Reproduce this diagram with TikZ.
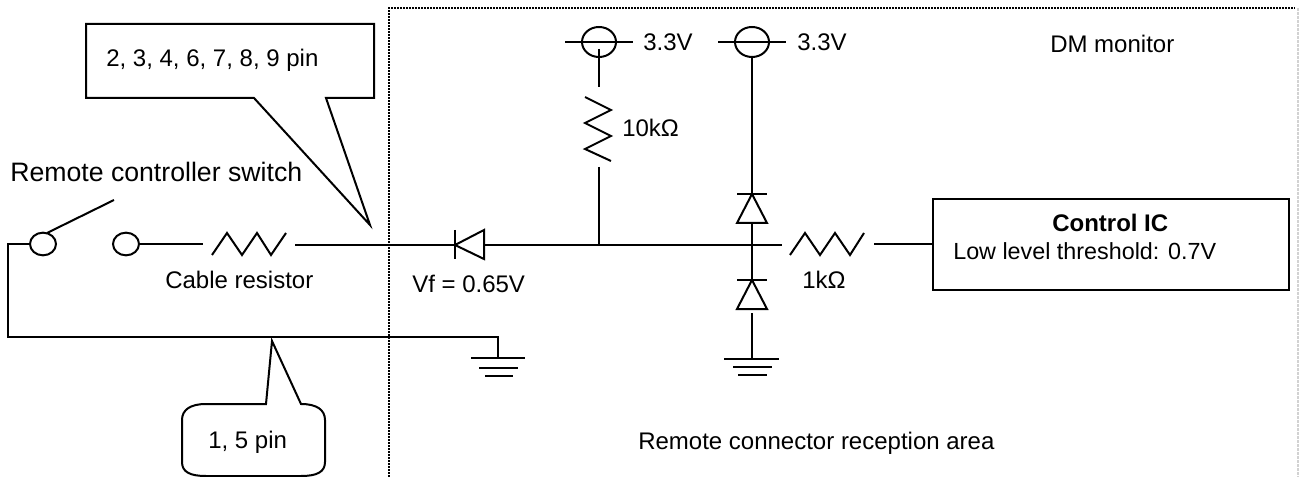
\documentclass[tikz,border=0pt]{standalone}
\usepackage{fontspec}
\setmainfont{Liberation Sans}
\tikzset{
  wire/.style={line width=1.5pt},
  txt/.style={inner sep=0pt,anchor=west,font=\fontsize{18}{20}\selectfont},
  bigtxt/.style={inner sep=0pt,anchor=west,font=\fontsize{20}{22}\selectfont},
  term/.style={draw,line width=1.5pt,ellipse,inner sep=0pt,minimum width=19.5pt,minimum height=17pt},
  rail/.style={draw,line width=1.5pt,ellipse,inner sep=0pt,minimum width=25.5pt,minimum height=22.5pt},
  monitor/.style={line width=1.5pt,dash pattern=on 1.2pt off 1.05pt},
}
\usetikzlibrary{shapes.geometric,calc}
\begin{document}
\begin{tikzpicture}[x=0.75pt,y=-0.75pt]
\useasboundingbox (0,0) rectangle (1299,477);

% monitor area
\draw[monitor] (389,477) -- (389,8) -- (1295,8);
\draw[line width=1pt,dash pattern=on 2pt off 1pt,gray!35] (1298,8) -- (1298,477);

% callouts
\draw[wire] (86,24) -- (374,24) -- (374,98) -- (326,98) -- (370,225) -- (254,98) -- (86,98) -- cycle;
\draw[wire] (266,404) -- (272,341) -- (301,404) .. controls (317,404) and (325,410) .. (325,420)
  -- (325,462) .. controls (325,472) and (317,476) .. (301,476) -- (206,476)
  .. controls (190,476) and (182,472) .. (182,462) -- (182,420)
  .. controls (182,410) and (190,404) .. (206,404) -- cycle;
\node[txt] (pinA) at (106,60) {2, 3, 4, 6, 7, 8, 9 pin};
\node[txt] (pinB) at (208,442) {1, 5 pin};

% switch
\node[bigtxt] (swlabel) at (10,172) {Remote controller switch};
\node[term] (swL) at (43,244) {};
\node[term] (swR) at (126,244) {};
\coordinate (lever) at (114,200);
\draw[wire] (swL) ++(4,-11) -- (lever);

% cable resistor
\coordinate (rcA) at (203,244);
\coordinate (rcB) at (295,245);
\draw[wire] (swR) -- (rcA);
\draw[wire] (212,255) -- (227,233) -- (242,255) -- (257,233) -- (271,255) -- (286,233);
\node[txt] (rclabel) at (165,280) {Cable resistor};

% diode
\coordinate (dA) at (455,245);
\coordinate (dB) at (484,245);
\draw[wire] (rcB) -- (dA);
\draw[wire] (455,230) -- (455,259);
\draw[wire] (dA) -- (484,230) -- (484,259) -- cycle;
\node[txt] (vflabel) at (412,284) {Vf = 0.65V};

% return wire
\coordinate (gA) at (498,358);
\coordinate (corner) at (8,244);
\draw[wire] (swL) -- (corner) -- (8,337) -- (498,337) -- (gA);
\draw[wire] (471,358) -- (525,358);
\draw[wire] (479,368) -- (518,368);
\draw[wire] (485,376) -- (513,376);

% pull up
\node[rail] (vccA) at (599,42) {};
\draw[wire] (565,42) -- (633,42);
\coordinate (pullA) at (599,87);
\coordinate (pullB) at (599,167);
\coordinate (tap) at (599,245);
\draw[wire] (599,49) -- (pullA);
\draw[wire] (585,97) -- (611,110) -- (585,123) -- (611,136) -- (585,149) -- (611,161);
\draw[wire] (pullB) -- (tap);
\node[txt] (vccAlabel) at (643,42) {3.3V};
\node[txt] (pulllabel) at (622,128) {10kΩ};

% clamp diodes
\node[rail] (vccB) at (752,42) {};
\draw[wire] (718,42) -- (786,42);
\node[txt] (vccBlabel) at (797,42) {3.3V};
\coordinate (cA) at (752,194);
\coordinate (cB) at (752,223);
\coordinate (cC) at (752,280);
\coordinate (cD) at (752,313);
\coordinate (gB) at (752,359);
\draw[wire] (vccB) -- (cA);
\draw[wire] (737,194) -- (767,194);
\draw[wire] (cA) -- (737,223) -- (767,223) -- cycle;
\draw[wire] (cB) -- (cC);
\draw[wire] (737,280) -- (767,280);
\draw[wire] (cC) -- (737,309) -- (767,309) -- cycle;
\draw[wire] (cD) -- (gB);
\draw[wire] (724,359) -- (779,359);
\draw[wire] (733,367) -- (772,367);
\draw[wire] (738,375) -- (767,375);

% input resistor and ic
\coordinate (rinA) at (782,245);
\coordinate (rinB) at (874,244);
\draw[wire] (dB) -- (rinA);
\draw[wire] (790,255) -- (805,233) -- (820,255) -- (835,233) -- (850,255) -- (864,233);
\node[txt] (rinlabel) at (802,280) {1kΩ};
\node[draw,line width=1.5pt,minimum width=267pt,minimum height=68.25pt,inner sep=0pt,anchor=north west] (ic) at (932,198) {};
\draw[wire] (rinB) -- (rinB -| ic.west);
\node[txt] (ictitle) at (1052,223) {\bfseries Control IC};
\node[txt,font=\fontsize{17.5}{20}\selectfont] (iclabel) at (953,251) {Low level threshold: 0.7V};

\node[txt] (dmlabel) at (1050,44) {DM monitor};
\node[txt] (arealabel) at (638,443) {Remote connector reception area};
\end{tikzpicture}
\end{document}
